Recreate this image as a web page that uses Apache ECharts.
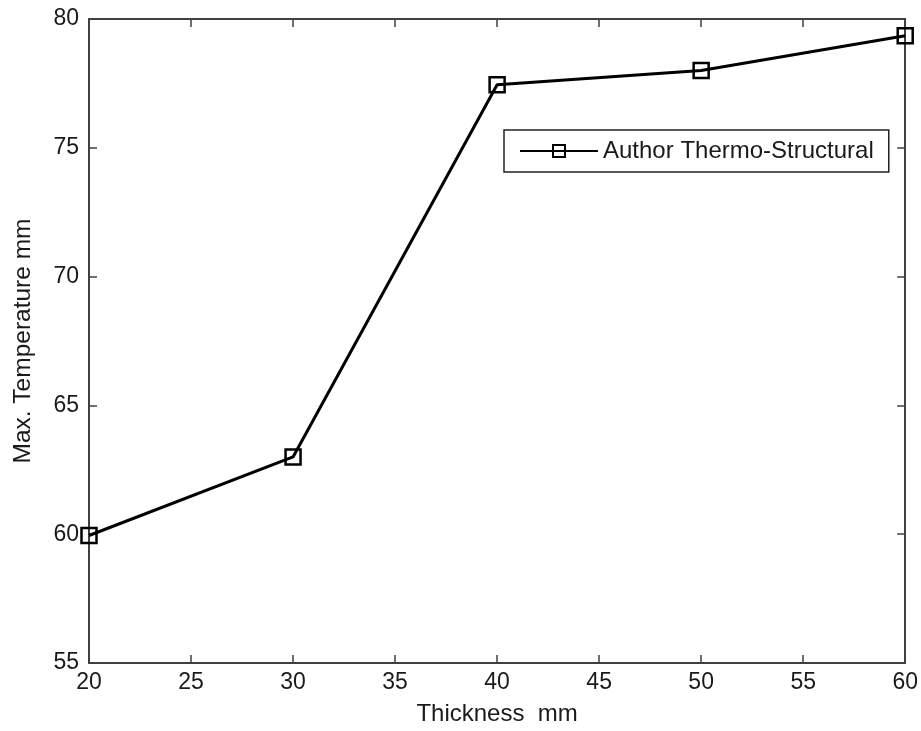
<!DOCTYPE html>
<html><head><meta charset="utf-8">
<script src="https://cdn.jsdelivr.net/npm/echarts@6/dist/echarts.min.js"></script>
<style>html,body{margin:0;padding:0;background:#fff}#c{width:921px;height:731px}</style>
</head><body><div id="c"></div>
<script>
const thickness = [20, 30, 40, 50, 60];
const maxTemp = [59.95, 63.0, 77.45, 78.0, 79.35];
const seriesName = 'Author Thermo-Structural';
const xTicks = [20, 25, 30, 35, 40, 45, 50, 55, 60];
const yTicks = [55, 60, 65, 70, 75, 80];

const font = 'Liberation Sans, Arial, sans-serif';
const axisCol = '#404040';
const txtCol = '#1a1a1a';
const chart = echarts.init(document.getElementById('c'), null, {renderer: 'canvas'});
const baseX = {
  type: 'value', min: 20, max: 60, interval: 5,
  axisLine: {show: true, onZero: false, lineStyle: {color: axisCol, width: 2}},
  axisTick: {show: true, inside: true, length: 8, lineStyle: {color: axisCol, width: 1.5}},
  splitLine: {show: false}
};
const baseY = {
  type: 'value', min: 55, max: 80, interval: 5,
  axisLine: {show: true, onZero: false, lineStyle: {color: axisCol, width: 2}},
  axisTick: {show: true, inside: true, length: 8, lineStyle: {color: axisCol, width: 1.5}},
  splitLine: {show: false}
};
chart.setOption({
  animation: false,
  backgroundColor: '#fff',
  grid: {left: 89, right: 15, top: 19, bottom: 68, containLabel: false},
  legend: {
    data: [seriesName], left: 504, top: 130,
    orient: 'vertical',
    itemWidth: 78, itemHeight: 15, itemGap: 6,
    padding: [9, 15, 9, 15],
    borderColor: '#222', borderWidth: 1.5, backgroundColor: '#fff',
    textStyle: {fontFamily: font, fontSize: 24, color: txtCol}
  },
  xAxis: [
    Object.assign({}, baseX, {
      position: 'bottom',
      name: 'Thickness  mm', nameLocation: 'middle', nameGap: 39,
      nameTextStyle: {fontFamily: font, fontSize: 24, color: txtCol},
      axisLabel: {show: true, margin: 8, fontFamily: font, fontSize: 23, color: txtCol,
        formatter: v => xTicks.includes(v) ? String(v) : ''}
    }),
    Object.assign({}, baseX, {position: 'top', axisLabel: {show: false}})
  ],
  yAxis: [
    Object.assign({}, baseY, {
      position: 'left',
      name: 'Max. Temperature mm', nameLocation: 'middle', nameGap: 53,
      nameTextStyle: {fontFamily: font, fontSize: 24.5, color: txtCol},
      axisLabel: {show: true, margin: 10, fontFamily: font, fontSize: 23, color: txtCol,
        formatter: v => yTicks.includes(v) ? String(v) : ''}
    }),
    Object.assign({}, baseY, {position: 'right', axisLabel: {show: false}})
  ],
  series: [{
    name: seriesName, type: 'line',
    data: thickness.map((t, i) => [t, maxTemp[i]]),
    symbol: 'rect', symbolSize: 15,
    lineStyle: {color: '#000', width: 3},
    itemStyle: {color: 'rgba(255,255,255,0)', borderColor: '#000', borderWidth: 2.5},
    clip: false, z: 5
  }]
});
</script></body></html>
